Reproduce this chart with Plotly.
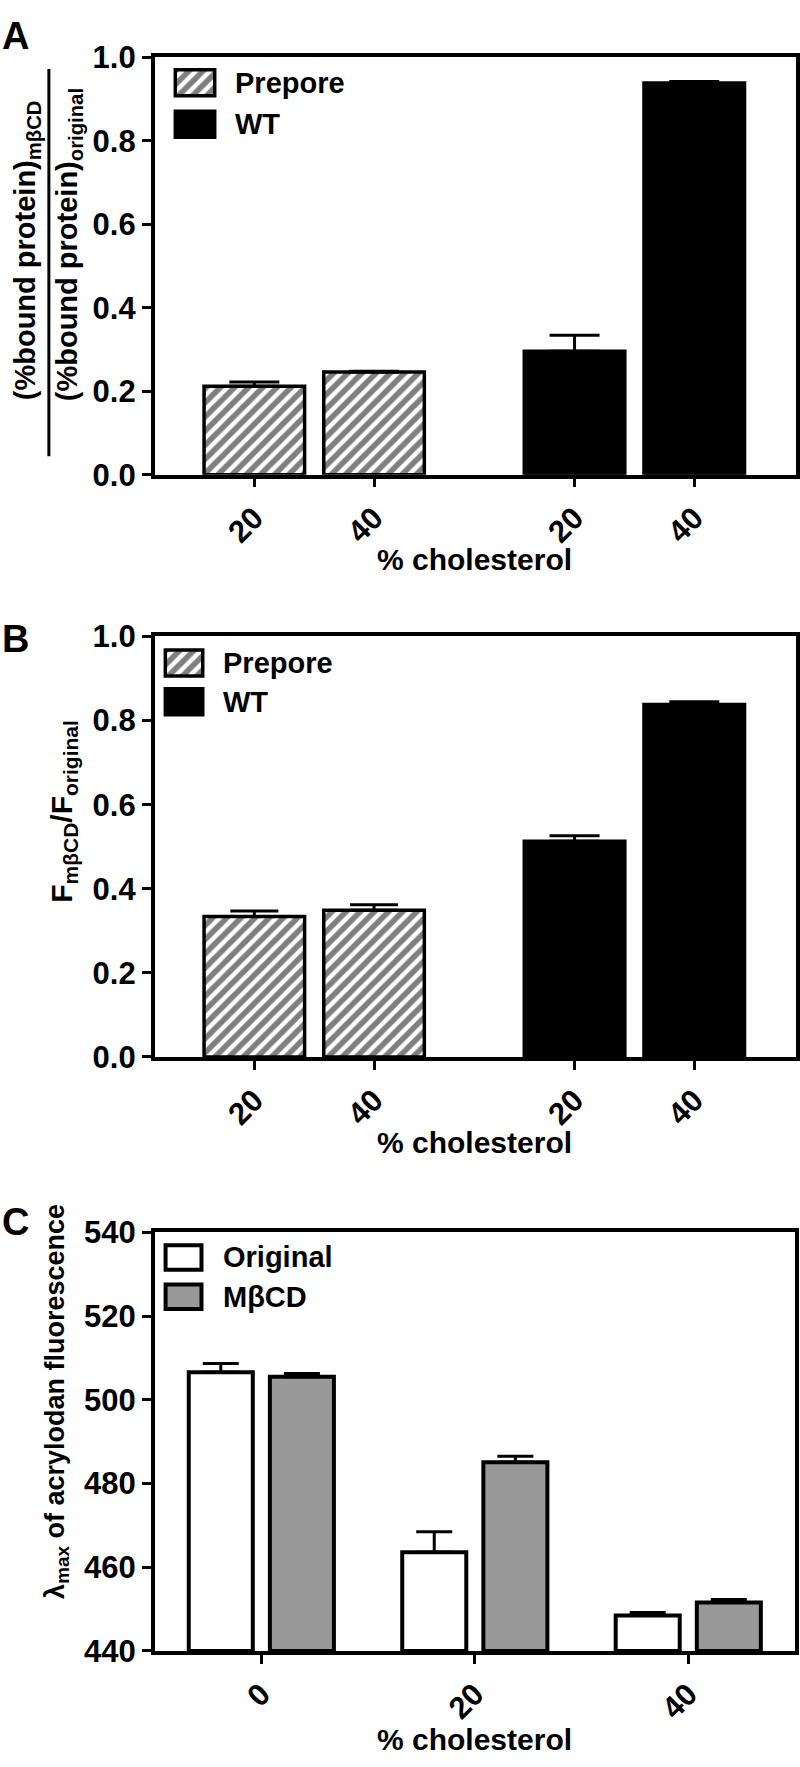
import plotly.graph_objects as go

# ---------------- data ----------------
cholesterol_AB = ["20", "40"]
A_prepore = [0.212, 0.246]
A_prepore_err = [0.010, 0.002]
A_wt = [0.296, 0.938]
A_wt_err = [0.038, 0.004]

B_prepore = [0.334, 0.349]
B_prepore_err = [0.013, 0.013]
B_wt = [0.513, 0.838]
B_wt_err = [0.013, 0.007]

cholesterol_C = ["0", "20", "40"]
C_original = [506.6, 463.6, 448.5]
C_original_err = [2.1, 4.9, 0.7]
C_mbcd = [505.5, 485.1, 451.6]
C_mbcd_err = [0.8, 1.4, 0.7]

yticks_AB = [0.0, 0.2, 0.4, 0.6, 0.8, 1.0]
yticks_C = [440, 460, 480, 500, 520, 540]
C_base = 440

# ---------------- layout helpers ----------------
W, H = 800, 1767
FONT = "Liberation Sans, Arial, Helvetica, sans-serif"
GRAY = "#999999"


def px(x):
    return x / W


def py(y):
    return 1 - y / H


fig = go.Figure()

group_step = 2.675
pos_pre = [i for i in range(len(cholesterol_AB))]
pos_wt = [group_step + i for i in range(len(cholesterol_AB))]
bar_w_AB = 0.84


def hatch_marker(lw=3.5):
    return dict(color="white", line=dict(color="black", width=lw),
                pattern=dict(shape="/", fgcolor="black", bgcolor="white",
                             size=10, solidity=0.55))


def solid_marker(color, lw=3.5):
    return dict(color=color, line=dict(color="black", width=lw))


def err(arr, w):
    return dict(type="data", symmetric=False, array=arr,
                arrayminus=[0] * len(arr), color="black", thickness=3, width=w)


# Panel A
fig.add_trace(go.Bar(x=pos_pre, y=A_prepore, width=bar_w_AB, marker=hatch_marker(),
                     error_y=err(A_prepore_err, 25), xaxis="x", yaxis="y", showlegend=False))
fig.add_trace(go.Bar(x=pos_wt, y=A_wt, width=bar_w_AB, marker=solid_marker("black"),
                     error_y=err(A_wt_err, 25), xaxis="x", yaxis="y", showlegend=False))
# Panel B
fig.add_trace(go.Bar(x=pos_pre, y=B_prepore, width=bar_w_AB, marker=hatch_marker(),
                     error_y=err(B_prepore_err, 24), xaxis="x2", yaxis="y2", showlegend=False))
fig.add_trace(go.Bar(x=pos_wt, y=B_wt, width=bar_w_AB, marker=solid_marker("black"),
                     error_y=err(B_wt_err, 25), xaxis="x2", yaxis="y2", showlegend=False))
# Panel C
off_C = 0.19
bar_w_C = 0.30
pos_C = list(range(len(cholesterol_C)))
fig.add_trace(go.Bar(x=[p - off_C for p in pos_C], y=[v - C_base for v in C_original], width=bar_w_C,
                     base=C_base, marker=solid_marker("white", 4),
                     error_y=err(C_original_err, 18), xaxis="x3", yaxis="y3", showlegend=False))
fig.add_trace(go.Bar(x=[p + off_C for p in pos_C], y=[v - C_base for v in C_mbcd], width=bar_w_C,
                     base=C_base, marker=solid_marker(GRAY, 4),
                     error_y=err(C_mbcd_err, 18), xaxis="x3", yaxis="y3", showlegend=False))

axis_common = dict(showline=True, linewidth=3.5, linecolor="black", mirror=True,
                   ticks="outside", ticklen=9, tickwidth=3, tickcolor="black",
                   showgrid=False, zeroline=False,
                   tickfont=dict(family=FONT, size=31, color="black", weight="bold"))

AB_xrange = [-0.833, 4.525]
fig.update_layout(
    xaxis=dict(domain=[px(155), px(798)], range=AB_xrange, anchor="y",
               tickvals=pos_pre + pos_wt, ticktext=cholesterol_AB * 2, tickangle=-45, **axis_common),
    yaxis=dict(domain=[py(467), py(41)], range=[0, 1], anchor="x",
               tickvals=yticks_AB, tickformat=".1f", **axis_common),
    xaxis2=dict(domain=[px(155), px(798)], range=AB_xrange, anchor="y2",
                tickvals=pos_pre + pos_wt, ticktext=cholesterol_AB * 2, tickangle=-45, **axis_common),
    yaxis2=dict(domain=[py(1061), py(632)], range=[0, 1], anchor="x2",
                tickvals=yticks_AB, tickformat=".1f", **axis_common),
    xaxis3=dict(domain=[px(155), px(797)], range=[-0.5, 2.5], anchor="y3",
                tickvals=pos_C, ticktext=cholesterol_C, tickangle=-45, **axis_common),
    yaxis3=dict(domain=[py(1667), py(1240)], range=[440, 540], anchor="x3",
                tickvals=yticks_C, **axis_common),
)

# ---------------- legends (mini axes holding swatch bars) ----------------
legend_specs = [
    (4, 174, 217, 52, 82, 94, 125, 3.5, [hatch_marker(), solid_marker("black")], ["Prepore", "WT"], 234),
    (5, 164, 205, 644, 674, 683, 714, 3.5, [hatch_marker(), solid_marker("black")], ["Prepore", "WT"], 222),
    (6, 164, 204, 1251, 1280, 1291, 1320, 4, [solid_marker("white", 4), solid_marker(GRAY, 4)], ["Original", "M\u03b2CD"], 222),
]
annotations = []
for idx, x0, x1, a0, a1, b0, b1, lw, styles, labels, tx in legend_specs:
    d0, d1 = x0 - 5, x1 + 5
    u = (x1 - x0 - lw)
    xr = [-((x0 + lw / 2) - d0) / u, 1 + (d1 - (x1 - lw / 2)) / u]
    c1, c2 = (a0 + a1) / 2, (b0 + b1) / 2
    s = c2 - c1
    bw = ((a1 - a0) - lw) / s
    dt, db = a0 - 5, b1 + 5
    yr = [1 + (db - c2) / s, -(c1 - dt) / s]
    xa, ya = f"x{idx}", f"y{idx}"
    fig.update_layout(**{
        f"xaxis{idx}": dict(domain=[px(d0), px(d1)], range=xr, visible=False, anchor=ya, fixedrange=True),
        f"yaxis{idx}": dict(domain=[py(db), py(dt)], range=yr, visible=False, anchor=xa, fixedrange=True),
    })
    for k, (st, lab) in enumerate(zip(styles, labels)):
        fig.add_trace(go.Bar(x=[1], y=[k], orientation="h", width=bw, marker=st,
                             xaxis=xa, yaxis=ya, showlegend=False, hoverinfo="skip"))
        cy = c1 if k == 0 else c2
        annotations.append(dict(x=px(tx), y=py(cy), xref="paper", yref="paper", text=lab,
                                showarrow=False, xanchor="left", yanchor="middle",
                                font=dict(family=FONT, size=29, color="black", weight="bold")))

# ---------------- titles / labels ----------------
tfont = dict(family=FONT, size=30, color="black", weight="bold")
for yy in [553, 1148, 1757]:
    annotations.append(dict(x=px(476), y=py(yy), xref="paper", yref="paper", text="% cholesterol",
                            showarrow=False, xanchor="center", yanchor="middle", font=tfont))

annotations.append(dict(x=px(27), y=py(238), xref="paper", yref="paper",
                        text="(%bound protein)<sub>m\u03b2CD</sub>", textangle=-90,
                        showarrow=False, xanchor="center", yanchor="middle",
                        font=dict(family=FONT, size=29, color="black", weight="bold")))
annotations.append(dict(x=px(70), y=py(232), xref="paper", yref="paper",
                        text="(%bound protein)<sub>original</sub>", textangle=-90,
                        showarrow=False, xanchor="center", yanchor="middle",
                        font=dict(family=FONT, size=29, color="black", weight="bold")))
annotations.append(dict(x=px(64), y=py(810), xref="paper", yref="paper",
                        text="F<sub>m\u03b2CD</sub>/F<sub>original</sub>", textangle=-90,
                        showarrow=False, xanchor="center", yanchor="middle", font=tfont))
annotations.append(dict(x=px(57), y=py(1412), xref="paper", yref="paper",
                        text="\u03bb<sub>max</sub> of acrylodan fluorescence", textangle=-90,
                        showarrow=False, xanchor="center", yanchor="middle",
                        font=dict(family=FONT, size=27, color="black", weight="bold")))

lfont = dict(family=FONT, size=38, color="black", weight="bold")
for lab, yy in [("A", 19), ("B", 635), ("C", 1229)]:
    annotations.append(dict(x=px(16), y=py(yy), xref="paper", yref="paper", text=lab,
                            showarrow=False, xanchor="center", yanchor="middle", font=lfont))

fig.update_layout(
    annotations=annotations,
    shapes=[dict(type="line", xref="paper", yref="paper", x0=px(49), x1=px(49),
                 y0=py(53), y1=py(448), line=dict(color="black", width=3))],
    width=W, height=H, margin=dict(l=0, r=0, t=0, b=0),
    paper_bgcolor="white", plot_bgcolor="white", barmode="overlay",
)

fig.write_html("out.html", config={"displayModeBar": False},
               post_script="document.body.style.margin='0';")
